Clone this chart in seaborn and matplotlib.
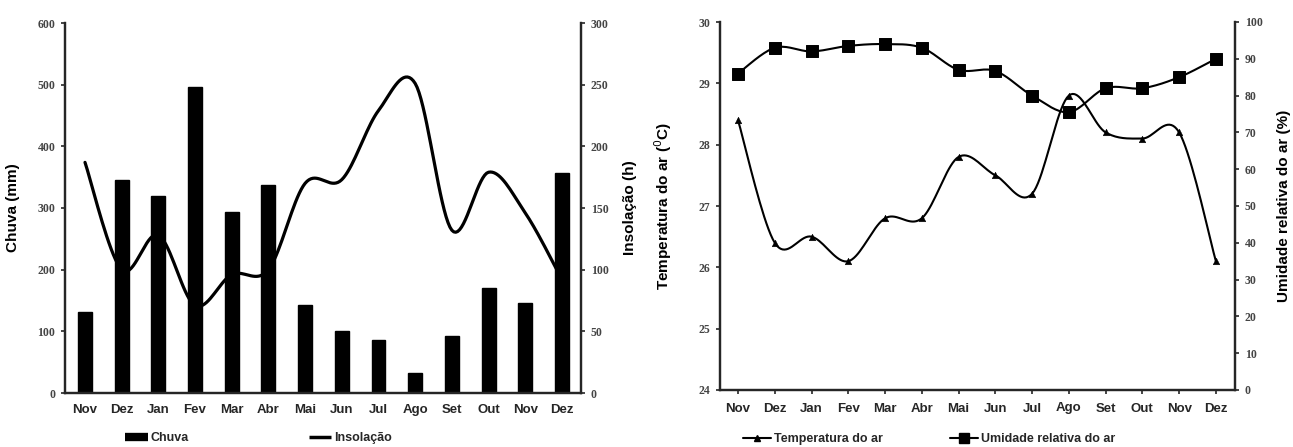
import numpy as np
import pandas as pd
import matplotlib
matplotlib.use("Agg")
import matplotlib.pyplot as plt
from matplotlib.lines import Line2D
import seaborn as sns

# data
meses = ["Nov", "Dez", "Jan", "Fev", "Mar", "Abr", "Mai", "Jun", "Jul", "Ago", "Set", "Out", "Nov", "Dez"]
chuva = [132, 345, 320, 497, 293, 337, 143, 100, 86, 32, 92, 170, 146, 356]
insolacao = [187, 100, 128, 71, 96, 100, 170, 173, 229, 251, 132, 179, 146, 92]
temperatura = [28.4, 26.4, 26.5, 26.1, 26.8, 26.8, 27.8, 27.5, 27.2, 28.8, 28.2, 28.1, 28.2, 26.1]
umidade = [86, 93, 92, 93.5, 94, 93, 87, 86.7, 80, 75.5, 82, 82, 85, 90]

sns.set_style("ticks")
plt.rcParams['font.family'] = ['Liberation Sans', 'DejaVu Sans']
plt.rcParams['axes.linewidth'] = 1.6

TICKFONT = dict(family='Liberation Serif', size=8.5, weight='bold', color='#444444')
LABFONT = dict(family='Liberation Sans', size=11, weight='bold', color='black')


def smooth(y, n=20):
    # excel-like smoothed line (bezier through the points)
    y = np.asarray(y, dtype=float)
    x = np.arange(len(y), dtype=float)
    p = np.column_stack([x, y])
    pp = np.vstack([p[0], p, p[-1]])
    out = []
    t = np.linspace(0, 1, n)[:, None]
    for i in range(len(p) - 1):
        p0, p1, p2, p3 = pp[i], pp[i + 1], pp[i + 2], pp[i + 3]
        c1 = p1 + (p2 - p0) / 6
        c2 = p2 - (p3 - p1) / 6
        seg = ((1 - t) ** 3) * p1 + 3 * ((1 - t) ** 2) * t * c1 + 3 * (1 - t) * t ** 2 * c2 + t ** 3 * p2
        out.append(seg if i == 0 else seg[1:])
    out = np.vstack(out)
    return out[:, 0], out[:, 1]


def style_ticks(ax):
    for lab in ax.get_yticklabels():
        lab.set_fontfamily(TICKFONT['family'])
        lab.set_fontsize(TICKFONT['size'])
        lab.set_fontweight(TICKFONT['weight'])
        lab.set_color(TICKFONT['color'])


W, H = 1293, 447
fig = plt.figure(figsize=(W / 100, H / 100), dpi=100)
pos = np.arange(len(meses))

# ---------------- left panel: chuva + insolacao
ax = fig.add_axes([65 / W, (H - 393) / H, 516 / W, 370 / H])
df = pd.DataFrame({"pos": pos, "chuva": chuva})
sns.barplot(data=df, x="pos", y="chuva", native_scale=True, width=0.38, color='black',
            saturation=1, edgecolor='black', ax=ax)
ax.set_xlim(-0.545, 13.52)
ax.set_ylim(0, 600)
ax.set_yticks(range(0, 601, 100))
ax.set_xticks(pos)
ax.set_xticklabels(meses, fontsize=9.5, fontweight='bold')
ax.tick_params(axis='x', length=0, pad=8)
ax.tick_params(axis='y', length=3, width=1.2, direction='out', pad=4)
ax.set_xlabel("")
ax.set_ylabel("Chuva (mm)", **LABFONT)
ax.yaxis.set_label_coords(-0.087, 0.5)
ax.spines['top'].set_visible(False)
style_ticks(ax)

ax2 = ax.twinx()
xs, ys = smooth(insolacao)
sns.lineplot(x=xs, y=ys, color='black', lw=2.3, ax=ax2, sort=False)
ax2.set_ylim(0, 300)
ax2.set_yticks(range(0, 301, 50))
ax2.tick_params(axis='y', length=3, width=1.2, direction='out', pad=4)
ax2.set_ylabel("Insolação (h)", **LABFONT)
ax2.yaxis.set_label_coords(1.082, 0.5)
ax2.spines['top'].set_visible(False)
style_ticks(ax2)

h1 = [Line2D([], [], color='black', lw=6, solid_capstyle='butt'),
      Line2D([], [], color='black', lw=2.5, solid_capstyle='butt')]
fig.legend(h1, ["Chuva", "Insolação"], loc='center left', bbox_to_anchor=(125 / W, 1 - 438 / H),
           ncol=2, frameon=False, handlelength=1.8, handletextpad=0.25, columnspacing=9.6,
           prop=dict(family='Liberation Sans', size=9, weight='bold'), borderaxespad=0, borderpad=0)

# ---------------- right panel: temperatura + umidade
bx = fig.add_axes([720 / W, (H - 390) / H, 515 / W, 368 / H])
xs, ys = smooth(temperatura)
sns.lineplot(x=xs, y=ys, color='black', lw=1.5, ax=bx, sort=False)
sns.scatterplot(x=pos, y=temperatura, marker='^', s=22, color='black', edgecolor='black', ax=bx, zorder=5)
bx.set_xlim(-0.49, 13.52)
bx.set_ylim(24, 30)
bx.set_yticks(range(24, 31))
bx.set_xticks(pos)
bx.set_xticklabels(meses, fontsize=9.5, fontweight='bold')
bx.tick_params(axis='x', length=3, width=1.2, direction='out', pad=6)
bx.tick_params(axis='y', length=3, width=1.2, direction='out', pad=4)
bx.set_ylabel("Temperatura do ar ($^{0}$C)", **LABFONT)
bx.yaxis.set_label_coords(-0.089, 0.5)
bx.spines['top'].set_visible(False)
style_ticks(bx)

bx2 = bx.twinx()
xs, ys = smooth(umidade)
sns.lineplot(x=xs, y=ys, color='black', lw=1.5, ax=bx2, sort=False)
sns.scatterplot(x=pos, y=umidade, marker='s', s=75, color='black', edgecolor='black', ax=bx2, zorder=5)
bx2.set_ylim(0, 100)
bx2.set_yticks(range(0, 101, 10))
bx2.tick_params(axis='y', length=3, width=1.2, direction='out', pad=4)
bx2.set_ylabel("Umidade relativa do ar (%)", **LABFONT)
bx2.yaxis.set_label_coords(1.081, 0.5)
bx2.spines['top'].set_visible(False)
style_ticks(bx2)

h2 = [Line2D([], [], color='black', lw=1.5, marker='^', markersize=4),
      Line2D([], [], color='black', lw=1.5, marker='s', markersize=7)]
fig.legend(h2, ["Temperatura do ar", "Umidade relativa do ar"], loc='center left',
           bbox_to_anchor=(743 / W, 1 - 439 / H), ncol=2, frameon=False, handlelength=2.2,
           handletextpad=0.25, columnspacing=5.4,
           prop=dict(family='Liberation Sans', size=9, weight='bold'), borderaxespad=0, borderpad=0)

fig.savefig("out.png", dpi=100)
